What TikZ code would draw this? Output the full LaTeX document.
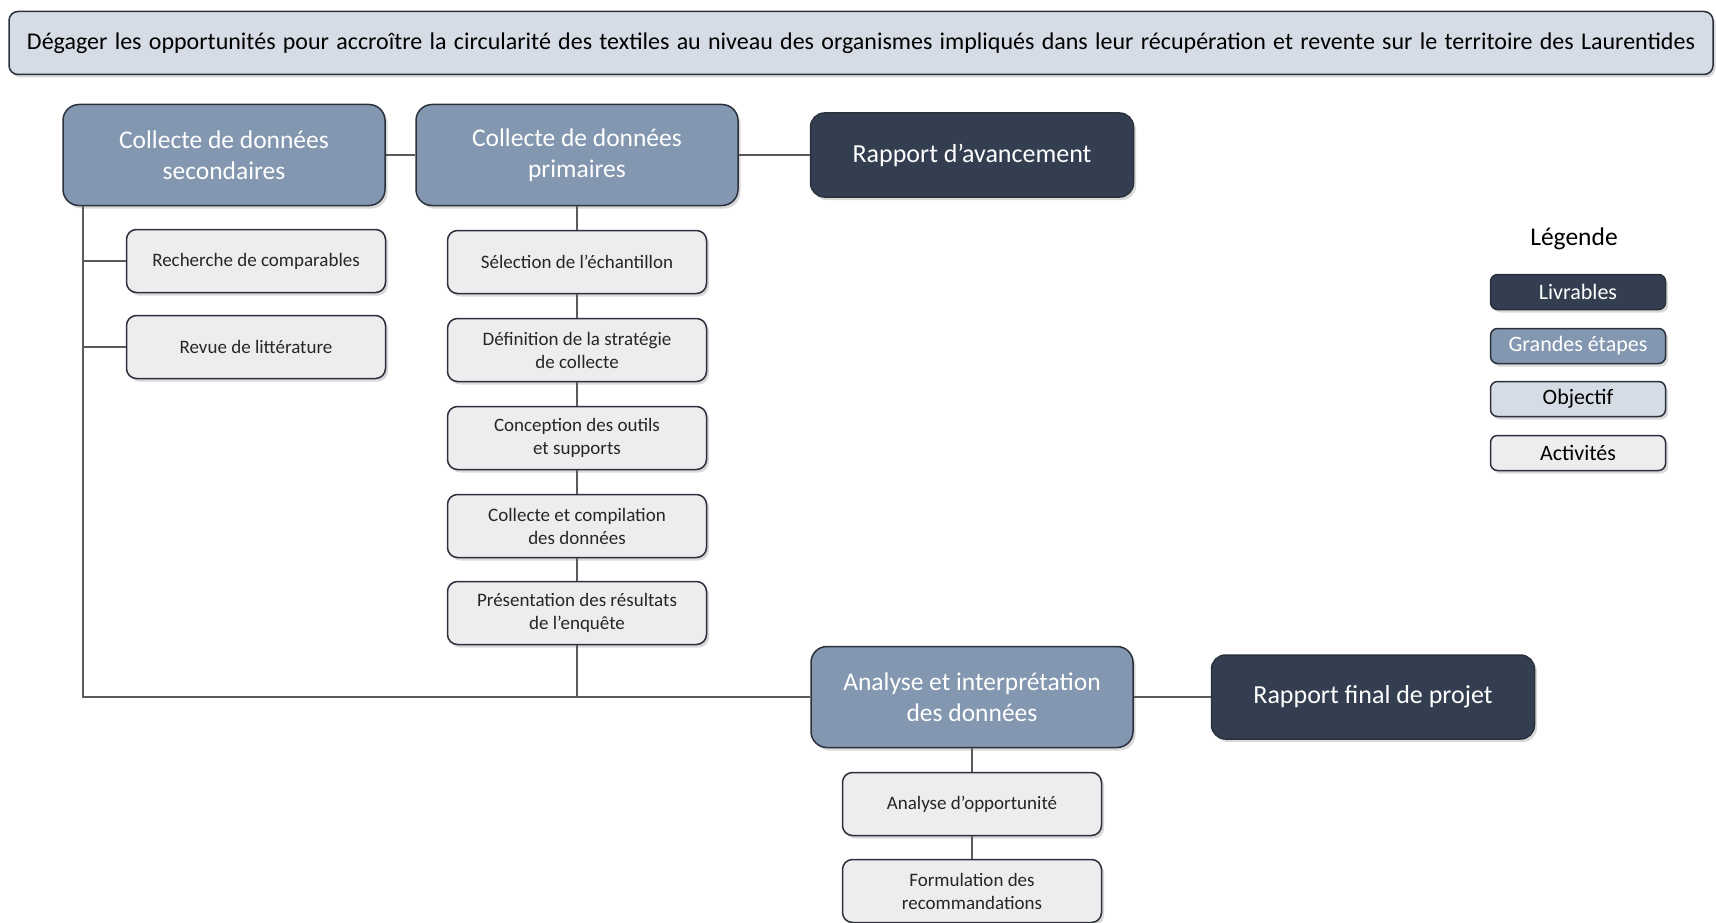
\documentclass[tikz,border=0pt]{standalone}
\usepackage{fontspec}
\setmainfont{Carlito}
\usetikzlibrary{positioning}
\usetikzlibrary{shadows}
\definecolor{livrable}{HTML}{333F50}
\definecolor{etape}{HTML}{8497B0}
\definecolor{objectif}{HTML}{D6DCE5}
\definecolor{activite}{HTML}{EDEDED}
\definecolor{bord}{HTML}{2A313C}
\definecolor{trait}{HTML}{5A5A5A}
\tikzset{	node distance=88pt,
	boite/.style={
		draw=bord,
		line width=1.5pt,
		align=center,
		inner sep=0pt,
		drop shadow={shadow xshift=2.5pt, shadow yshift=-3pt, opacity=0.3}},
	obj/.style={boite, fill=objectif, rounded corners=9pt,
		minimum width=1704pt, minimum height=63pt,
		font=\fontsize{24}{28}\selectfont},
	etape/.style={boite, fill=etape, text=white, rounded corners=16pt,
		minimum width=322pt, minimum height=101pt,
		font=\fontsize{25.5}{31}\selectfont},
	livrable/.style={boite, fill=livrable, text=white, rounded corners=14pt,
		minimum width=323pt, minimum height=84pt,
		font=\fontsize{26}{31}\selectfont},
	activite/.style={boite, fill=activite, text=black!85, rounded corners=10pt,
		minimum width=259pt, minimum height=63pt,
		font=\fontsize{19}{23}\selectfont},
	legende/.style={boite, rounded corners=7pt,
		minimum width=175pt, minimum height=35pt,
		font=\fontsize{22}{26}\selectfont},
	lien/.style={draw=trait, line width=1.2pt}
}
\begin{document}
\begin{tikzpicture}[x=1pt, y=-1pt]
	\useasboundingbox (0,0) rectangle (1716,923);
	% objectif
	\node[obj] (but) at (861,43) {\makebox[1668pt][s]{D\'egager les opportunit\'es pour accro\^itre la circularit\'e des textiles au niveau des organismes impliqu\'es dans leur r\'ecup\'eration et revente sur le territoire des Laurentides}};
	% grandes etapes et livrables
	\node[etape] (sec) at (224,155) {Collecte de donn\'ees\\secondaires};
	\node[etape] (prim) at (577,155) {Collecte de donn\'ees\\primaires};
	\node[livrable] (avc) at (972,155) {Rapport d’avancement};
	\node[etape] (ana) at (972,697) {Analyse et interpr\'etation\\des donn\'ees};
	\node[livrable] (fin) at (1373,697) {Rapport final de projet};
	% activites
	\node[activite] (rech) at (256,261) {Recherche de comparables};
	\node[activite, below of=rech, node distance=86pt] (rev) {Revue de litt\'erature};
	\node[activite] (sel) at (577,262) {S\'election de l’\'echantillon};
	\node[activite, below of=sel] (def) {D\'efinition de la strat\'egie\\de collecte};
	\node[activite, below of=def] (conc) {Conception des outils\\et supports};
	\node[activite, below of=conc] (comp) {Collecte et compilation\\des donn\'ees};
	\node[activite, below of=comp, node distance=87pt] (pres) {Pr\'esentation des r\'esultats\\de l’enqu\^ete};
	\node[activite] (opp) at (972,804) {Analyse d’opportunit\'e};
	\node[activite, below of=opp, node distance=87pt] (form) {Formulation des\\recommandations};
	% legende
	\node[font=\fontsize{25.5}{30}\selectfont] (leg) at (1574,239) {L\'egende};
	\node[legende, fill=livrable, text=white] (l1) at (1578,292) {Livrables};
	\node[legende, fill=etape, text=white, below of=l1, node distance=54pt] (l2) {Grandes \'etapes};
	\node[legende, fill=objectif, below of=l2, node distance=53pt] (l3) {Objectif};
	\node[legende, fill=activite, below of=l3, node distance=54pt] (l4) {Activit\'es};
	% liens
	\coordinate (coin) at (83,697);
	\draw[lien] (sec.south -| coin) -- (coin) -- (ana.west);
	\draw[lien] (rech.west -| coin) -- (rech.west);
	\draw[lien] (rev.west -| coin) -- (rev.west);
	\draw[lien] (sec.east) -- (prim.west);
	\draw[lien] (prim.east) -- (avc.west);
	\draw[lien] (prim) -- (sel) -- (def) -- (conc) -- (comp) -- (pres);
	\draw[lien] (pres.south) -- (pres.south |- coin);
	\draw[lien] (ana.east) -- (fin.west);
	\draw[lien] (ana) -- (opp) -- (form);
\end{tikzpicture}
\end{document}
